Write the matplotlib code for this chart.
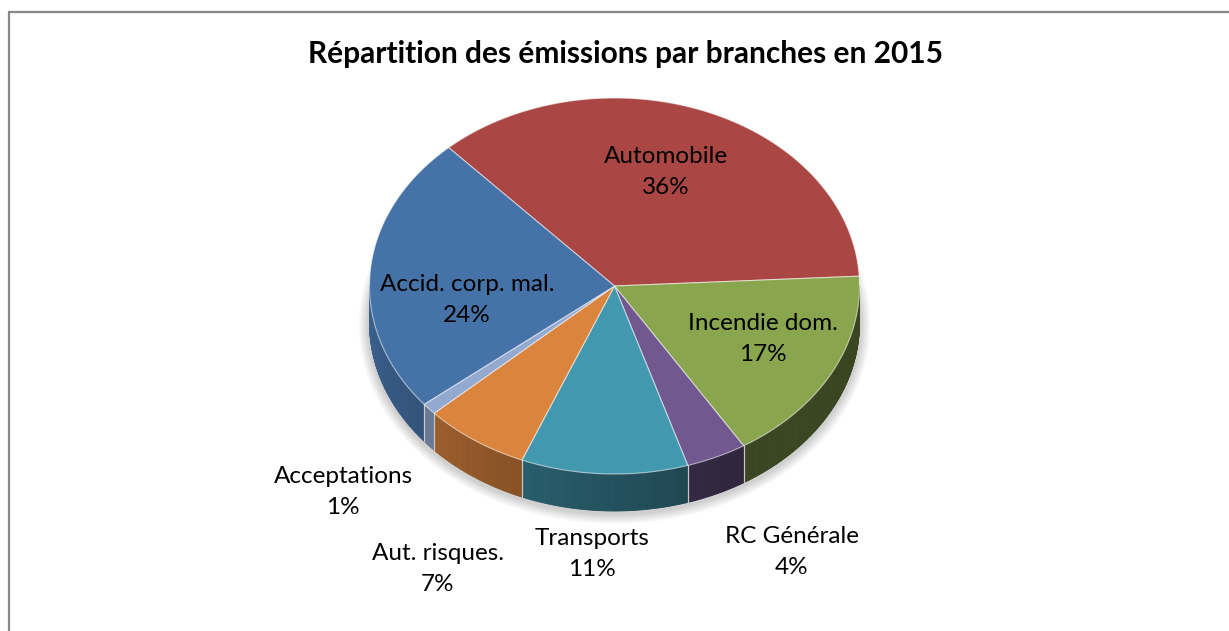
import numpy as np
import matplotlib.pyplot as plt
from matplotlib.patches import Polygon, Ellipse
from matplotlib.colors import to_rgb

plt.rcParams['font.family'] = ['Lato', 'DejaVu Sans']

title = "Répartition des émissions par branches en 2015"
branches = ["Automobile", "Incendie dom.", "RC Générale", "Transports",
            "Aut. risques.", "Acceptations", "Accid. corp. mal."]
shares = [36, 17, 4, 11, 7, 1, 24]
colors = ["#AA4643", "#89A54E", "#71588F", "#4198AF", "#DB843D", "#93A9CF", "#4572A7"]

# label anchors (pixel coords, like excel's manual placement)
label_xy = [(666, 172), (763, 339), (792, 552), (592, 554), (438, 569), (343, 492), (467, 300)]

# pie geometry in pixels
cx, cy = 614.5, 286
rx, ry = 245, 188
depth = 37
start = 132.6  # angle of first slice, degrees, going clockwise


def rim(t, dy=0):
    r = np.radians(t)
    return cx + rx * np.cos(r), cy - ry * np.sin(r) + dy


def shade(t):
    # side walls get darker towards the right
    k = np.clip((-t - 60) / 120.0, 0, 1)
    return 0.42 + 0.45 * k


fig = plt.figure(figsize=(12.29, 6.31), dpi=100)
ax = fig.add_axes([0, 0, 1, 1])
ax.set_xlim(0, 1229)
ax.set_ylim(631, 0)
ax.axis('off')

# chart border (only top and left visible)
ax.plot([9, 9], [640, 12], color='#888888', lw=1.6, solid_capstyle='butt')
ax.plot([8.4, 1240], [12, 12], color='#888888', lw=1.6, solid_capstyle='butt')

# soft shadow under the pie
for i in range(8):
    ax.add_patch(Ellipse((cx, cy + depth + 2), 2 * rx + 4 + i * 2.5, 2 * ry + 4 + i * 2.5,
                         facecolor='black', edgecolor='none', alpha=0.025, zorder=1))

# angles of each slice
bounds = []
t = start
for s in shares:
    t2 = t - s * 3.6
    bounds.append((t, t2))
    t = t2

# side walls, only the front half is visible
for (t1, t2), col in zip(bounds, colors):
    base = np.array(to_rgb(col))
    for k in (-360, 0, 360):
        a = max(t2, -180 + k)
        b = min(t1, 0 + k)
        if b <= a:
            continue
        ts = np.linspace(a, b, max(2, int((b - a) * 2) + 1))
        for u, v in zip(ts[:-1], ts[1:]):
            f = shade((u + v) / 2 - k)
            c = tuple(base * f)
            x1, y1 = rim(u)
            x2, y2 = rim(v)
            ax.add_patch(Polygon([(x1, y1), (x2, y2), (x2, y2 + depth), (x1, y1 + depth)],
                                 closed=True, facecolor=c, edgecolor=c, lw=0.6, zorder=2))
        # light seams at slice boundaries on the side
        for e in (a, b):
            if -180 + k < e < k:
                x, y = rim(e)
                ax.plot([x, x], [y, y + depth], color='#c8c8c8', lw=0.8, zorder=3)

# top surface
for (t1, t2), col in zip(bounds, colors):
    ts = np.linspace(t1, t2, int(abs(t1 - t2) * 2) + 2)
    xs, ys = rim(ts)
    pts = [(cx, cy)] + list(zip(xs, ys))
    ax.add_patch(Polygon(pts, closed=True, facecolor=col,
                         edgecolor=(1, 1, 1, 0.55), lw=0.8, zorder=4))

# labels
for name, s, (x, y) in zip(branches, shares, label_xy):
    ax.text(x, y, f"{name}\n{s}%", ha='center', va='center', fontsize=17.5,
            linespacing=1.6, color='black', zorder=5)

ax.text(626, 54, title, ha='center', va='center', fontsize=21.5, fontweight='bold')

fig.savefig('out.png', dpi=100)
